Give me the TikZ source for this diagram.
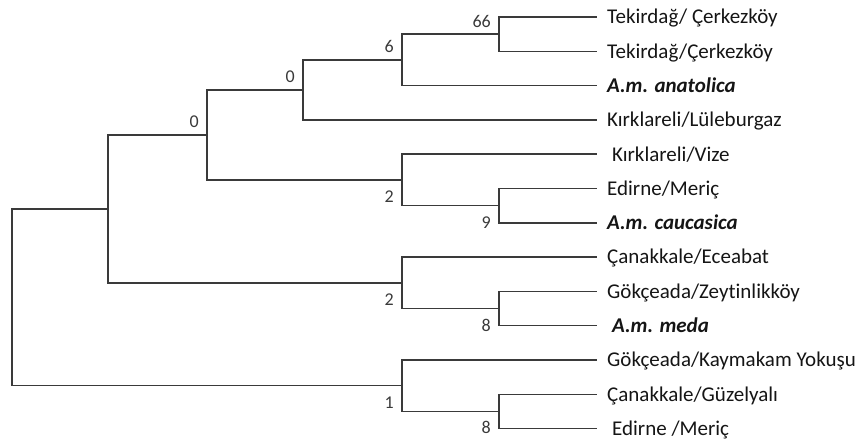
\documentclass[tikz,border=0pt]{standalone}
\usepackage{fontspec}
\setmainfont[RawFeature={-liga}]{Carlito}
\definecolor{linecol}{HTML}{3A3A3A}
\definecolor{numcol}{HTML}{3A3A3A}
\definecolor{txtcol}{HTML}{151515}
\begin{document}
\begin{tikzpicture}[x=1pt,y=-1pt,
  branch/.style={draw=linecol,line width=1.5pt},
  leaf/.style={anchor=base west,inner sep=0pt,xshift=10pt,yshift=-6.8pt,font=\fontsize{21}{24}\selectfont,text=txtcol},
  leafsp/.style={leaf,xshift=5pt},
  bsup/.style={anchor=base east,inner sep=0pt,font=\fontsize{18}{20}\selectfont,text=numcol},
  above lbl/.style={bsup,xshift=-8pt,yshift=7pt},
  below lbl/.style={bsup,xshift=-8pt,yshift=-22.5pt}]
\useasboundingbox (0,0) rectangle (861,445);
% tips
\coordinate (t1) at (597,17);
\coordinate (t2) at (597,51.3);
\coordinate (t3) at (597,85.6);
\coordinate (t4) at (597,119.9);
\coordinate (t5) at (597,154.2);
\coordinate (t6) at (597,188.5);
\coordinate (t7) at (597,222.8);
\coordinate (t8) at (597,257.1);
\coordinate (t9) at (597,291.4);
\coordinate (t10) at (597,325.7);
\coordinate (t11) at (597,360);
\coordinate (t12) at (597,394.3);
\coordinate (t13) at (597,428.6);
% internal nodes
\coordinate (n66) at (499,34.15);
\coordinate (n6) at (402,59.9);
\coordinate (n0a) at (303,89.9);
\coordinate (n9) at (499,205.65);
\coordinate (n2a) at (402,179.9);
\coordinate (n0b) at (207,134.9);
\coordinate (n8a) at (499,308.55);
\coordinate (n2b) at (402,282.8);
\coordinate (nB) at (108,208.9);
\coordinate (n8b) at (499,411.45);
\coordinate (n1) at (402,385.7);
\coordinate (root) at (12,297.3);
% branches
\draw[branch] (n66) |- (t1) (n66) |- (t2);
\draw[branch] (n6) |- (n66) (n6) |- (t3);
\draw[branch] (n0a) |- (n6) (n0a) |- (t4);
\draw[branch] (n9) |- (t6) (n9) |- (t7);
\draw[branch] (n2a) |- (t5) (n2a) |- (n9);
\draw[branch] (n0b) |- (n0a) (n0b) |- (n2a);
\draw[branch] (n8a) |- (t9) (n8a) |- (t10);
\draw[branch] (n2b) |- (t8) (n2b) |- (n8a);
\draw[branch] (nB) |- (n0b) (nB) |- (n2b);
\draw[branch] (n8b) |- (t12) (n8b) |- (t13);
\draw[branch] (n1) |- (t11) (n1) |- (n8b);
\draw[branch] (root) |- (nB) (root) |- (n1);
% leaf labels
\node[leaf] (l1) at (t1) {Tekirdağ/ Çerkezköy};
\node[leaf] (l2) at (t2) {Tekirdağ/Çerkezköy};
\node[leaf] (l3) at (t3) {\bfseries\itshape A.m. anatolica};
\node[leaf] (l4) at (t4) {Kırklareli/Lüleburgaz};
\node[leafsp] (l5) at (t5) {Kırklareli/Vize};
\node[leaf] (l6) at (t6) {Edirne/Meriç};
\node[leaf] (l7) at (t7) {\bfseries\itshape A.m. caucasica};
\node[leaf] (l8) at (t8) {Çanakkale/Eceabat};
\node[leaf] (l9) at (t9) {Gökçeada/Zeytinlikköy};
\node[leafsp] (l10) at (t10) {\bfseries\itshape A.m. meda};
\node[leaf] (l11) at (t11) {Gökçeada/Kaymakam Yokuşu};
\node[leaf] (l12) at (t12) {Çanakkale/Güzelyalı};
\node[leafsp] (l13) at (t13) {Edirne /Meriç};
% support values
\node[above lbl] (s66) at (n66) {66};
\node[above lbl] (s6) at (n6) {6};
\node[above lbl] (s0a) at (n0a) {0};
\node[above lbl] (s0b) at (n0b) {0};
\node[below lbl] (s2a) at (n2a) {2};
\node[below lbl] (s9) at (n9) {9};
\node[below lbl] (s2b) at (n2b) {2};
\node[below lbl] (s8a) at (n8a) {8};
\node[below lbl] (s1) at (n1) {1};
\node[below lbl] (s8b) at (n8b) {8};
\end{tikzpicture}
\end{document}
